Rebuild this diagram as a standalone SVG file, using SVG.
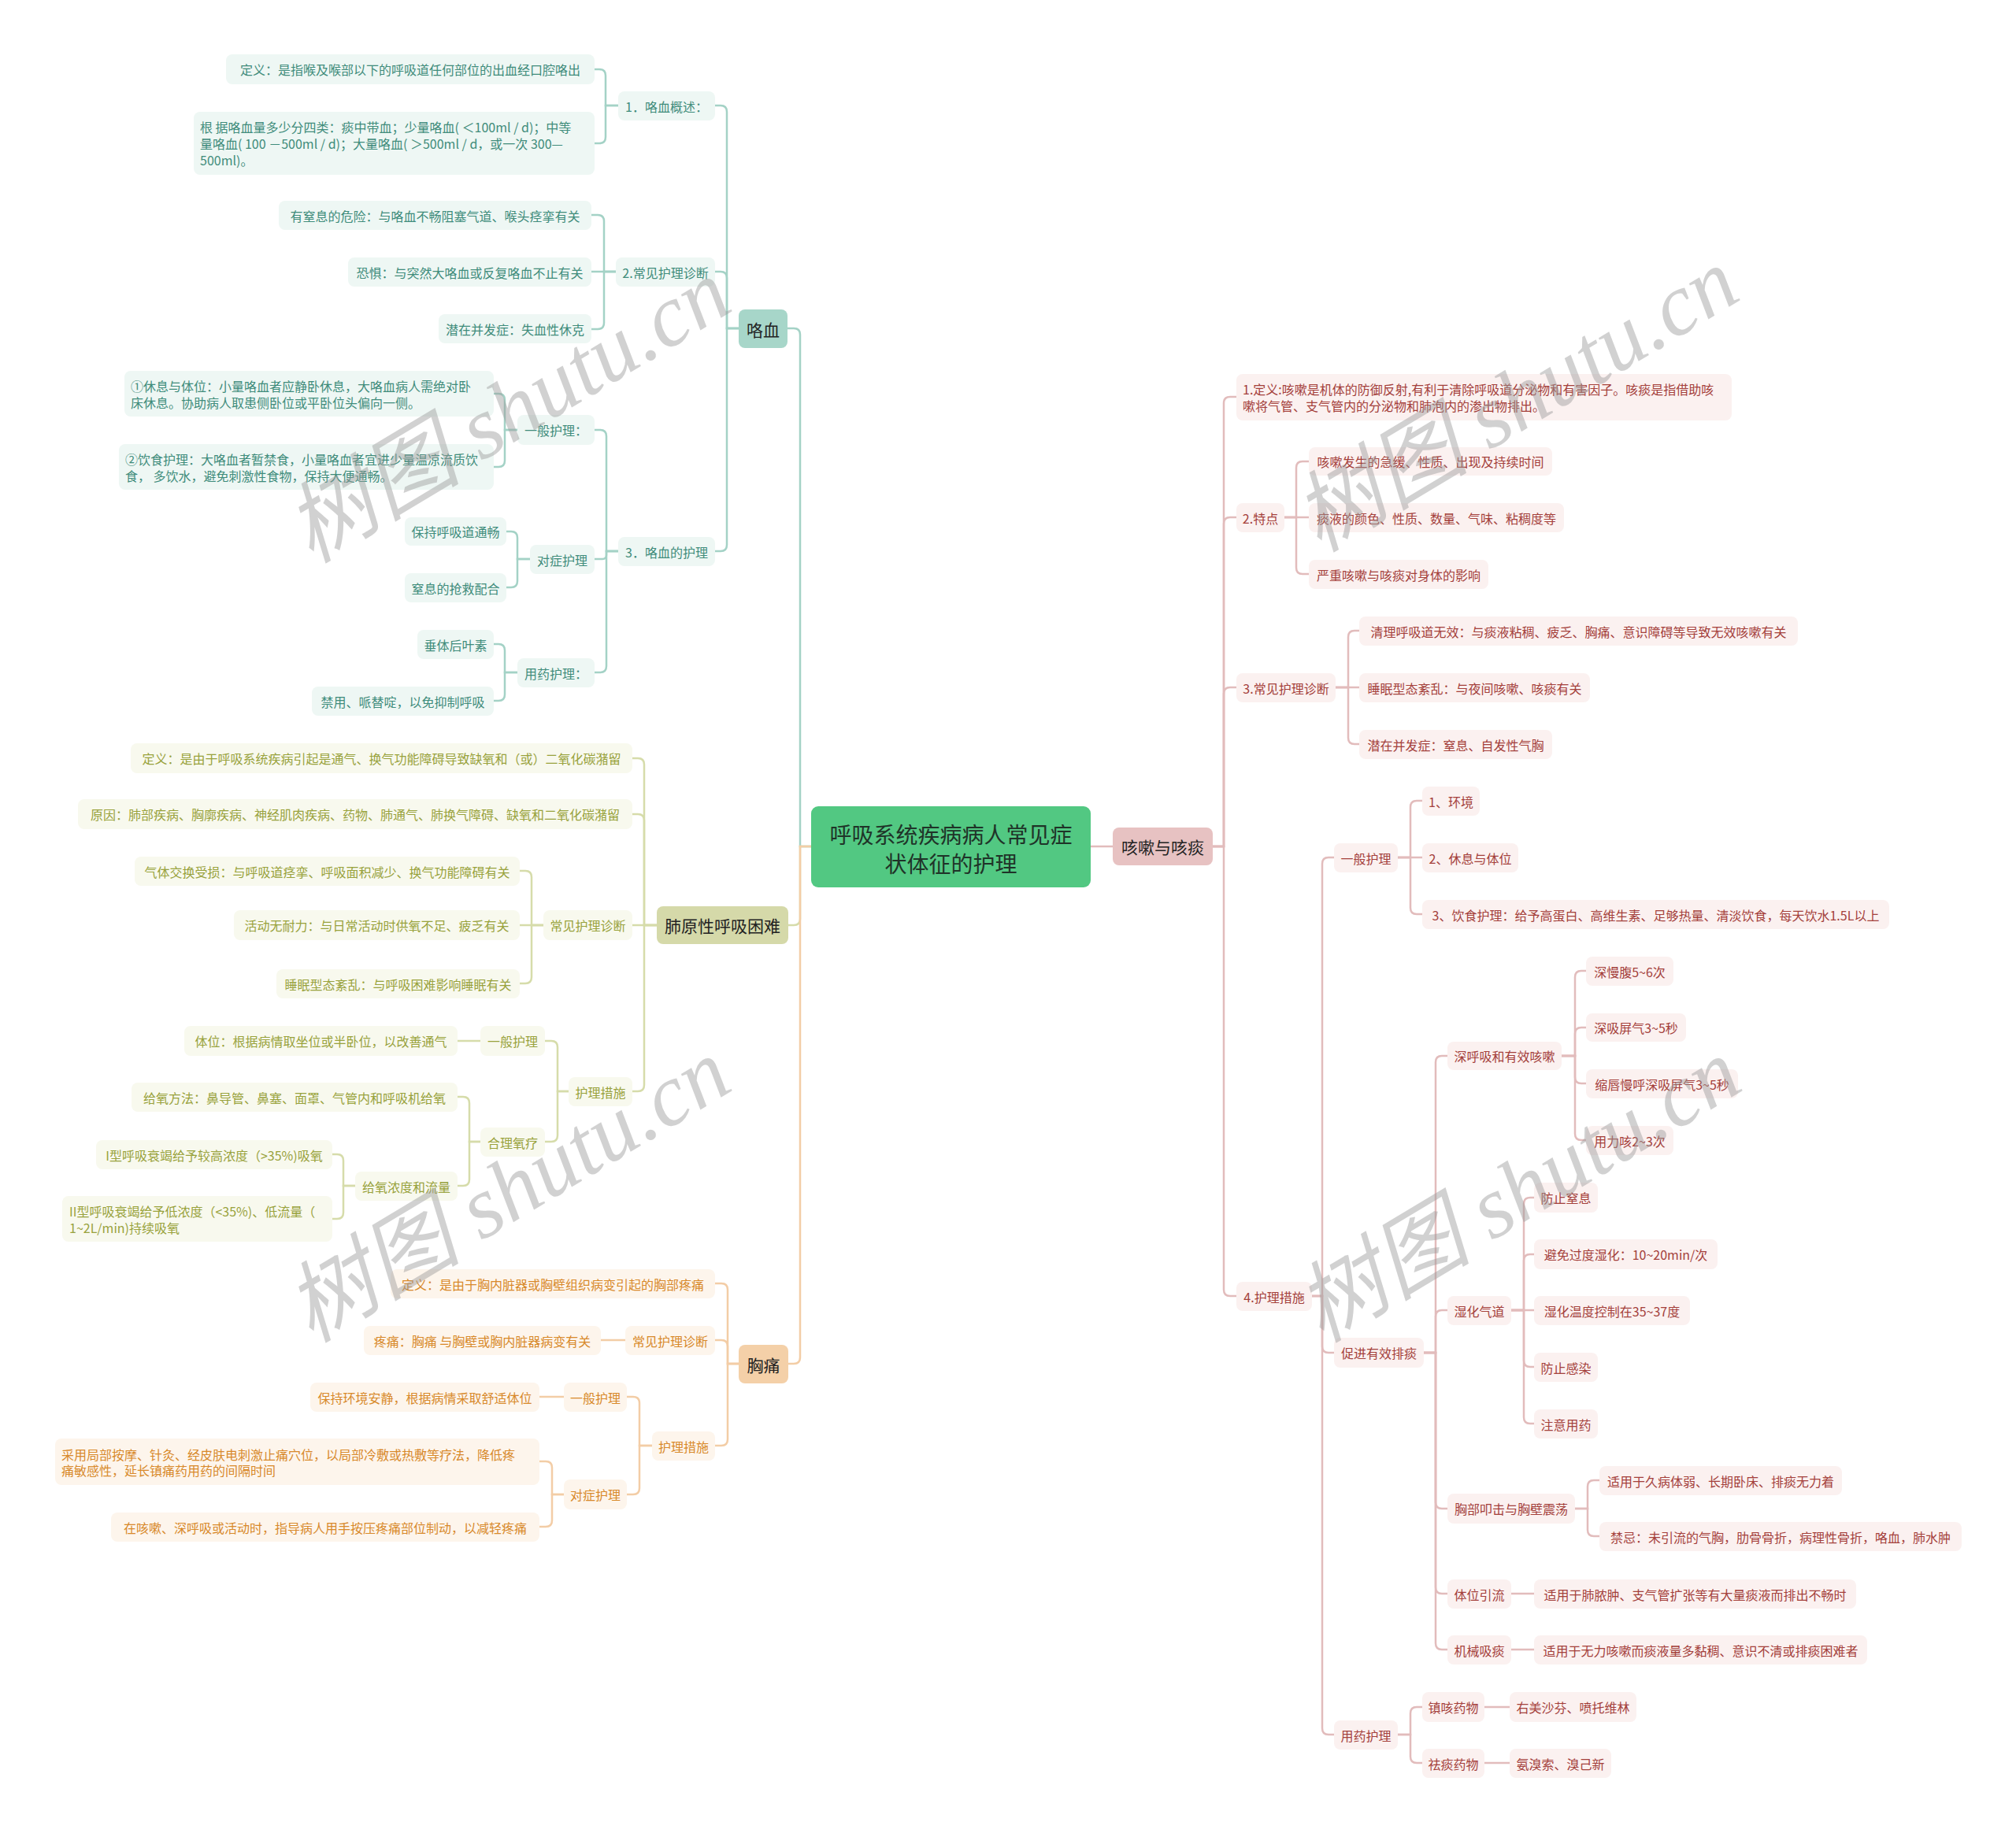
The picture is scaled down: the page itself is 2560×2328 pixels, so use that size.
<svg xmlns="http://www.w3.org/2000/svg" width="2560" height="2328" viewBox="0 0 2560 2328">
<style>
text{font-family:"Noto Sans CJK SC","Microsoft YaHei",sans-serif;font-size:16px;dominant-baseline:central;text-anchor:middle}
text.l{text-anchor:start}
.c path{fill:none;stroke-width:2.5;stroke-linecap:round}
.ct path{stroke:#a4d2c6}
.co path{stroke:#d6dcaa}
.cr path{stroke:#f3cda6}
.cp path{stroke:#e2bcbc}
.t rect{fill:#eef7f4;rx:8px}
.t text{fill:#3f8c7b}
.o rect{fill:#f8f9ee;rx:8px}
.o text{fill:#98a23c}
.r rect{fill:#fdf5ec;rx:8px}
.r text{fill:#d8892a}
.p rect{fill:#fbf1f0;rx:8px}
.p text{fill:#a4403b}
.m text{font-size:21px;fill:#222}
.mt rect{fill:#a7d6c9}
.mo rect{fill:#d5d9a9}
.mr rect{fill:#f4d0a8}
.mp rect{fill:#e7c2c2}
.root rect{fill:#52c882;rx:9px}
.root text{font-size:28px;fill:#1f3328}
.wm{font-family:"Liberation Serif","Noto Sans CJK SC",serif;font-style:italic;font-size:112px;fill:#9a9a9a;fill-opacity:0.45;dominant-baseline:central;text-anchor:middle}
</style>
<rect width="2560" height="2328" fill="#ffffff"/>
<g id="connectors" class="c">
<g class="ct">
<path d="M1030,1075 H1016 V425 Q1016,417 1008,417 H1000"/>
<path d="M938,417 H923 V142 Q923,134 915,134 H908"/>
<path d="M938,417 H923 V353 Q923,345 915,345 H908"/>
<path d="M938,417 H923 V692 Q923,700 915,700 H908"/>
<path d="M785,134 H769 V96 Q769,88 761,88 H755"/>
<path d="M785,134 H769 V174 Q769,182 761,182 H755"/>
<path d="M782,345 H767 V281 Q767,273 759,273 H751"/>
<path d="M782,345 H751"/>
<path d="M782,345 H767 V410 Q767,418 759,418 H751"/>
<path d="M785,700 H770 V554 Q770,546 762,546 H755"/>
<path d="M785,700 H770 V705 Q770,710 765,710 H755"/>
<path d="M785,700 H770 V846 Q770,854 762,854 H755"/>
<path d="M657,546 H641 V508 Q641,500 633,500 H627"/>
<path d="M657,546 H641 V585 Q641,593 633,593 H627"/>
<path d="M673,710 H657 V683 Q657,675 649,675 H643"/>
<path d="M673,710 H657 V738 Q657,746 649,746 H643"/>
<path d="M657,854 H641 V826 Q641,818 633,818 H627"/>
<path d="M657,854 H641 V882 Q641,890 633,890 H627"/>
</g>
<g class="co">
<path d="M1030,1075 H1016 V1167 Q1016,1175 1008,1175 H1001"/>
<path d="M834,1175 H818 V971 Q818,963 810,963 H803"/>
<path d="M834,1175 H818 V1042 Q818,1034 810,1034 H803"/>
<path d="M834,1175 H803"/>
<path d="M834,1175 H818 V1378 Q818,1386 810,1386 H803"/>
<path d="M690,1175 H675 V1114 Q675,1106 667,1106 H660"/>
<path d="M690,1175 H660"/>
<path d="M690,1175 H675 V1241 Q675,1249 667,1249 H660"/>
<path d="M722,1386 H708 V1330 Q708,1322 700,1322 H692"/>
<path d="M722,1386 H708 V1442 Q708,1450 700,1450 H692"/>
<path d="M610,1322 H581"/>
<path d="M610,1450 H596 V1401 Q596,1393 588,1393 H581"/>
<path d="M610,1450 H596 V1498 Q596,1506 588,1506 H581"/>
<path d="M451,1506 H436 V1474 Q436,1466 428,1466 H422"/>
<path d="M451,1506 H436 V1540 Q436,1548 428,1548 H422"/>
</g>
<g class="cr">
<path d="M1030,1075 H1016 V1724 Q1016,1732 1008,1732 H1001"/>
<path d="M938,1732 H924 V1638 Q924,1630 916,1630 H908"/>
<path d="M938,1732 H924 V1710 Q924,1702 916,1702 H908"/>
<path d="M938,1732 H924 V1828 Q924,1836 916,1836 H908"/>
<path d="M794,1702 H763"/>
<path d="M828,1836 H812 V1782 Q812,1774 804,1774 H796"/>
<path d="M828,1836 H812 V1890 Q812,1898 804,1898 H796"/>
<path d="M716,1774 H685"/>
<path d="M716,1898 H701 V1864 Q701,1856 693,1856 H685"/>
<path d="M716,1898 H701 V1931 Q701,1939 693,1939 H685"/>
</g>
<g class="cp">
<path d="M1385,1075 H1413"/>
<path d="M1540,1075 H1554 V512 Q1554,504 1562,504 H1570"/>
<path d="M1540,1075 H1554 V665 Q1554,657 1562,657 H1570"/>
<path d="M1540,1075 H1554 V881 Q1554,873 1562,873 H1570"/>
<path d="M1540,1075 H1554 V1638 Q1554,1646 1562,1646 H1570"/>
<path d="M1631,657 H1646 V594 Q1646,586 1654,586 H1662"/>
<path d="M1631,657 H1662"/>
<path d="M1631,657 H1646 V721 Q1646,729 1654,729 H1662"/>
<path d="M1696,873 H1712 V809 Q1712,801 1720,801 H1726"/>
<path d="M1696,873 H1726"/>
<path d="M1696,873 H1712 V937 Q1712,945 1720,945 H1726"/>
<path d="M1666,1646 H1679 V1097 Q1679,1089 1687,1089 H1694"/>
<path d="M1666,1646 H1679 V1710 Q1679,1718 1687,1718 H1694"/>
<path d="M1666,1646 H1679 V2195 Q1679,2203 1687,2203 H1694"/>
<path d="M1775,1089 H1791 V1025 Q1791,1017 1799,1017 H1806"/>
<path d="M1775,1089 H1806"/>
<path d="M1775,1089 H1791 V1153 Q1791,1161 1799,1161 H1806"/>
<path d="M1808,1718 H1823 V1349 Q1823,1341 1831,1341 H1838"/>
<path d="M1808,1718 H1823 V1672 Q1823,1664 1831,1664 H1838"/>
<path d="M1808,1718 H1823 V1908 Q1823,1916 1831,1916 H1838"/>
<path d="M1808,1718 H1823 V2016 Q1823,2024 1831,2024 H1838"/>
<path d="M1808,1718 H1823 V2087 Q1823,2095 1831,2095 H1838"/>
<path d="M1983,1341 H2000 V1241 Q2000,1233 2008,1233 H2014"/>
<path d="M1983,1341 H2000 V1313 Q2000,1305 2008,1305 H2014"/>
<path d="M1983,1341 H2000 V1368 Q2000,1376 2008,1376 H2014"/>
<path d="M1983,1341 H2000 V1440 Q2000,1448 2008,1448 H2014"/>
<path d="M1919,1664 H1935 V1529 Q1935,1521 1943,1521 H1948"/>
<path d="M1919,1664 H1935 V1601 Q1935,1593 1943,1593 H1948"/>
<path d="M1919,1664 H1948"/>
<path d="M1919,1664 H1935 V1728 Q1935,1736 1943,1736 H1948"/>
<path d="M1919,1664 H1935 V1800 Q1935,1808 1943,1808 H1948"/>
<path d="M2000,1916 H2016 V1888 Q2016,1880 2024,1880 H2031"/>
<path d="M2000,1916 H2016 V1943 Q2016,1951 2024,1951 H2031"/>
<path d="M1919,2024 H1948"/>
<path d="M1919,2095 H1948"/>
<path d="M1775,2203 H1791 V2176 Q1791,2168 1799,2168 H1806"/>
<path d="M1775,2203 H1791 V2231 Q1791,2239 1799,2239 H1806"/>
<path d="M1885,2168 H1917"/>
<path d="M1885,2239 H1917"/>
</g>
</g>

<g id="root" class="root"><rect x="1030" y="1024" width="355" height="103"/><text x="1207.5" y="1059">呼吸系统疾病病人常见症</text><text x="1207.5" y="1096">状体征的护理</text></g>

<g id="b-kx" class="m mt"><rect x="938" y="393" width="62" height="49" rx="8"/><text x="969" y="417.5">咯血</text></g>
<g id="t1" class="t"><rect x="287" y="69" width="468" height="38"/><text x="521" y="88">定义：是指喉及喉部以下的呼吸道任何部位的出血经口腔咯出</text></g>
<g id="t2" class="t"><rect x="246" y="142" width="509" height="80"/><text class="l" x="254" y="161">根 据咯血量多少分四类：痰中带血；少量咯血( ＜100ml / d)；中等</text><text class="l" x="254" y="182">量咯血( 100 －500ml / d)；大量咯血( ＞500ml / d，或一次 300—</text><text class="l" x="254" y="203">500ml)。</text></g>
<g id="t3" class="t"><rect x="785" y="116" width="123" height="37"/><text x="846.5" y="134.5">1．咯血概述：</text></g>
<g id="t4" class="t"><rect x="354" y="255" width="397" height="37"/><text x="552.5" y="273.5">有窒息的危险：与咯血不畅阻塞气道、喉头痉挛有关</text></g>
<g id="t5" class="t"><rect x="442" y="327" width="309" height="37"/><text x="596.5" y="345.5">恐惧：与突然大咯血或反复咯血不止有关</text></g>
<g id="t6" class="t"><rect x="782" y="327" width="126" height="37"/><text x="845" y="345.5">2.常见护理诊断</text></g>
<g id="t7" class="t"><rect x="557" y="399" width="194" height="37"/><text x="654" y="417.5">潜在并发症：失血性休克</text></g>
<g id="t8" class="t"><rect x="158" y="471" width="469" height="58"/><text class="l" x="166" y="490">①休息与体位：小量咯血者应静卧休息，大咯血病人需绝对卧</text><text class="l" x="166" y="511">床休息。协助病人取患侧卧位或平卧位头偏向一侧。</text></g>
<g id="t9" class="t"><rect x="151" y="564" width="476" height="58"/><text class="l" x="159" y="583">②饮食护理：大咯血者暂禁食，小量咯血者宜进少量温凉流质饮</text><text class="l" x="159" y="604">食， 多饮水，避免刺激性食物，保持大便通畅。</text></g>
<g id="t10" class="t"><rect x="657" y="527" width="98" height="38"/><text x="706" y="546">一般护理：</text></g>
<g id="t11" class="t"><rect x="514" y="657" width="129" height="36"/><text x="578.5" y="675">保持呼吸道通畅</text></g>
<g id="t12" class="t"><rect x="673" y="692" width="82" height="37"/><text x="714" y="710.5">对症护理</text></g>
<g id="t13" class="t"><rect x="514" y="728" width="129" height="37"/><text x="578.5" y="746.5">窒息的抢救配合</text></g>
<g id="t14" class="t"><rect x="785" y="682" width="123" height="37"/><text x="846.5" y="700.5">3．咯血的护理</text></g>
<g id="t15" class="t"><rect x="530" y="800" width="97" height="37"/><text x="578.5" y="818.5">垂体后叶素</text></g>
<g id="t16" class="t"><rect x="657" y="836" width="98" height="37"/><text x="706" y="854.5">用药护理：</text></g>
<g id="t17" class="t"><rect x="396" y="872" width="231" height="37"/><text x="511.5" y="890.5">禁用、哌替啶，以免抑制呼吸</text></g>

<g id="b-hx" class="m mo"><rect x="834" y="1151" width="167" height="48" rx="8"/><text x="917.5" y="1175">肺原性呼吸困难</text></g>
<g id="o1" class="o"><rect x="166" y="944" width="637" height="38"/><text x="484.5" y="963">定义：是由于呼吸系统疾病引起是通气、换气功能障碍导致缺氧和（或）二氧化碳潴留</text></g>
<g id="o2" class="o"><rect x="99" y="1015" width="704" height="38"/><text x="451" y="1034">原因：肺部疾病、胸廓疾病、神经肌肉疾病、药物、肺通气、肺换气障碍、缺氧和二氧化碳潴留</text></g>
<g id="o3" class="o"><rect x="171" y="1088" width="489" height="37"/><text x="415.5" y="1106.5">气体交换受损：与呼吸道痉挛、呼吸面积减少、换气功能障碍有关</text></g>
<g id="o4" class="o"><rect x="297" y="1156" width="363" height="38"/><text x="478.5" y="1175">活动无耐力：与日常活动时供氧不足、疲乏有关</text></g>
<g id="o5" class="o"><rect x="690" y="1156" width="113" height="38"/><text x="746.5" y="1175">常见护理诊断</text></g>
<g id="o7" class="o"><rect x="351" y="1231" width="309" height="37"/><text x="505.5" y="1249.5">睡眠型态紊乱：与呼吸困难影响睡眠有关</text></g>
<g id="o8" class="o"><rect x="234" y="1303" width="347" height="38"/><text x="407.5" y="1322">体位：根据病情取坐位或半卧位，以改善通气</text></g>
<g id="o9" class="o"><rect x="610" y="1303" width="82" height="38"/><text x="651" y="1322">一般护理</text></g>
<g id="o10" class="o"><rect x="722" y="1368" width="81" height="37"/><text x="762.5" y="1386.5">护理措施</text></g>
<g id="o11" class="o"><rect x="167" y="1375" width="414" height="37"/><text x="374" y="1393.5">给氧方法：鼻导管、鼻塞、面罩、气管内和呼吸机给氧</text></g>
<g id="o12" class="o"><rect x="610" y="1432" width="82" height="37"/><text x="651" y="1450.5">合理氧疗</text></g>
<g id="o13" class="o"><rect x="122" y="1448" width="300" height="37"/><text x="272" y="1466.5">I型呼吸衰竭给予较高浓度（&gt;35%)吸氧</text></g>
<g id="o14" class="o"><rect x="451" y="1488" width="130" height="37"/><text x="516" y="1506.5">给氧浓度和流量</text></g>
<g id="o15" class="o"><rect x="79" y="1519" width="343" height="58"/><text class="l" x="88" y="1538">II型呼吸衰竭给予低浓度（&lt;35%)、低流量（</text><text class="l" x="88" y="1559">1~2L/min)持续吸氧</text></g>

<g id="b-xt" class="m mr"><rect x="938" y="1708" width="63" height="49" rx="8"/><text x="969.5" y="1732.5">胸痛</text></g>
<g id="r1" class="r"><rect x="496" y="1612" width="412" height="37"/><text x="702" y="1630.5">定义：是由于胸内脏器或胸壁组织病变引起的胸部疼痛</text></g>
<g id="r2" class="r"><rect x="462" y="1684" width="301" height="37"/><text x="612.5" y="1702.5">疼痛：胸痛 与胸壁或胸内脏器病变有关</text></g>
<g id="r3" class="r"><rect x="794" y="1684" width="114" height="37"/><text x="851" y="1702.5">常见护理诊断</text></g>
<g id="r5" class="r"><rect x="394" y="1756" width="291" height="37"/><text x="539.5" y="1774.5">保持环境安静，根据病情采取舒适体位</text></g>
<g id="r6" class="r"><rect x="716" y="1756" width="80" height="37"/><text x="756" y="1774.5">一般护理</text></g>
<g id="r7" class="r"><rect x="828" y="1818" width="80" height="37"/><text x="868" y="1836.5">护理措施</text></g>
<g id="r8" class="r"><rect x="70" y="1827" width="615" height="59"/><text class="l" x="78" y="1847">采用局部按摩、针灸、经皮肤电刺激止痛穴位，以局部冷敷或热敷等疗法，降低疼</text><text class="l" x="78" y="1867">痛敏感性，延长镇痛药用药的间隔时间</text></g>
<g id="r9" class="r"><rect x="716" y="1879" width="80" height="38"/><text x="756" y="1898">对症护理</text></g>
<g id="r10" class="r"><rect x="141" y="1921" width="544" height="37"/><text x="413" y="1939.5">在咳嗽、深呼吸或活动时，指导病人用手按压疼痛部位制动，以减轻疼痛</text></g>

<g id="b-ks" class="m mp"><rect x="1413" y="1051" width="127" height="48" rx="8"/><text x="1476.5" y="1075">咳嗽与咳痰</text></g>
<g id="p1" class="p"><rect x="1570" y="475" width="629" height="59"/><text class="l" x="1578" y="494">1.定义:咳嗽是机体的防御反射,有利于清除呼吸道分泌物和有害因子。咳痰是指借助咳</text><text class="l" x="1578" y="515">嗽将气管、支气管内的分泌物和肺泡内的渗出物排出。</text></g>
<g id="p2" class="p"><rect x="1570" y="639" width="61" height="37"/><text x="1600.5" y="657.5">2.特点</text></g>
<g id="p3" class="p"><rect x="1662" y="568" width="309" height="36"/><text x="1816.5" y="586">咳嗽发生的急缓、性质、出现及持续时间</text></g>
<g id="p4" class="p"><rect x="1662" y="639" width="324" height="37"/><text x="1824" y="657.5">痰液的颜色、性质、数量、气味、粘稠度等</text></g>
<g id="p5" class="p"><rect x="1662" y="711" width="228" height="37"/><text x="1776" y="729.5">严重咳嗽与咳痰对身体的影响</text></g>
<g id="p6" class="p"><rect x="1570" y="855" width="126" height="37"/><text x="1633" y="873.5">3.常见护理诊断</text></g>
<g id="p7" class="p"><rect x="1726" y="783" width="557" height="37"/><text x="2004.5" y="801.5">清理呼吸道无效：与痰液粘稠、疲乏、胸痛、意识障碍等导致无效咳嗽有关</text></g>
<g id="p8" class="p"><rect x="1726" y="855" width="293" height="37"/><text x="1872.5" y="873.5">睡眠型态紊乱：与夜间咳嗽、咳痰有关</text></g>
<g id="p9" class="p"><rect x="1726" y="927" width="245" height="37"/><text x="1848.5" y="945.5">潜在并发症：窒息、自发性气胸</text></g>
<g id="p10" class="p"><rect x="1806" y="999" width="73" height="37"/><text x="1842.5" y="1017.5">1、环境</text></g>
<g id="p11" class="p"><rect x="1694" y="1071" width="81" height="37"/><text x="1734.5" y="1089.5">一般护理</text></g>
<g id="p12" class="p"><rect x="1806" y="1071" width="122" height="37"/><text x="1867" y="1089.5">2、休息与体位</text></g>
<g id="p13" class="p"><rect x="1806" y="1143" width="593" height="37"/><text x="2102.5" y="1161.5">3、饮食护理：给予高蛋白、高维生素、足够热量、清淡饮食，每天饮水1.5L以上</text></g>
<g id="p14" class="p"><rect x="2014" y="1215" width="111" height="37"/><text x="2069.5" y="1233.5">深慢腹5~6次</text></g>
<g id="p15" class="p"><rect x="2014" y="1287" width="127" height="36"/><text x="2077.5" y="1305">深吸屏气3~5秒</text></g>
<g id="p16" class="p"><rect x="1838" y="1323" width="145" height="36"/><text x="1910.5" y="1341">深呼吸和有效咳嗽</text></g>
<g id="p17" class="p"><rect x="2014" y="1358" width="193" height="37"/><text x="2110.5" y="1376.5">缩唇慢呼深吸屏气3~5秒</text></g>
<g id="p18" class="p"><rect x="2014" y="1430" width="111" height="37"/><text x="2069.5" y="1448.5">用力咳2~3次</text></g>
<g id="p19" class="p"><rect x="1948" y="1502" width="81" height="38"/><text x="1988.5" y="1521">防止窒息</text></g>
<g id="p20" class="p"><rect x="1948" y="1574" width="233" height="38"/><text x="2064.5" y="1593">避免过度湿化：10~20min/次</text></g>
<g id="p21" class="p"><rect x="1570" y="1628" width="96" height="37"/><text x="1618" y="1646.5">4.护理措施</text></g>
<g id="p22" class="p"><rect x="1838" y="1646" width="81" height="37"/><text x="1878.5" y="1664.5">湿化气道</text></g>
<g id="p23" class="p"><rect x="1948" y="1646" width="198" height="37"/><text x="2047" y="1664.5">湿化温度控制在35~37度</text></g>
<g id="p24" class="p"><rect x="1694" y="1699" width="114" height="38"/><text x="1751" y="1718">促进有效排痰</text></g>
<g id="p25" class="p"><rect x="1948" y="1718" width="81" height="37"/><text x="1988.5" y="1736.5">防止感染</text></g>
<g id="p26" class="p"><rect x="1948" y="1790" width="81" height="37"/><text x="1988.5" y="1808.5">注意用药</text></g>
<g id="p27" class="p"><rect x="2031" y="1862" width="308" height="37"/><text x="2185" y="1880.5">适用于久病体弱、长期卧床、排痰无力着</text></g>
<g id="p28" class="p"><rect x="1838" y="1897" width="162" height="38"/><text x="1919" y="1916">胸部叩击与胸壁震荡</text></g>
<g id="p29" class="p"><rect x="2031" y="1933" width="460" height="37"/><text x="2261" y="1951.5">禁忌：未引流的气胸，肋骨骨折，病理性骨折，咯血，肺水肿</text></g>
<g id="p30" class="p"><rect x="1838" y="2006" width="81" height="37"/><text x="1878.5" y="2024.5">体位引流</text></g>
<g id="p31" class="p"><rect x="1948" y="2006" width="409" height="37"/><text x="2152.5" y="2024.5">适用于肺脓肿、支气管扩张等有大量痰液而排出不畅时</text></g>
<g id="p32" class="p"><rect x="1838" y="2077" width="81" height="37"/><text x="1878.5" y="2095.5">机械吸痰</text></g>
<g id="p33" class="p"><rect x="1948" y="2077" width="423" height="37"/><text x="2159.5" y="2095.5">适用于无力咳嗽而痰液量多黏稠、意识不清或排痰困难者</text></g>
<g id="p34" class="p"><rect x="1806" y="2149" width="79" height="38"/><text x="1845.5" y="2168">镇咳药物</text></g>
<g id="p35" class="p"><rect x="1917" y="2149" width="161" height="38"/><text x="1997.5" y="2168">右美沙芬、喷托维林</text></g>
<g id="p36" class="p"><rect x="1694" y="2185" width="81" height="37"/><text x="1734.5" y="2203.5">用药护理</text></g>
<g id="p37" class="p"><rect x="1806" y="2221" width="79" height="37"/><text x="1845.5" y="2239.5">祛痰药物</text></g>
<g id="p38" class="p"><rect x="1917" y="2221" width="129" height="37"/><text x="1981.5" y="2239.5">氨溴索、溴己新</text></g>

<g id="watermarks">
<text class="wm" transform="translate(645,522) rotate(-31)">树图 shutu.cn</text>
<text class="wm" transform="translate(1925,508) rotate(-31)">树图 shutu.cn</text>
<text class="wm" transform="translate(645,1512) rotate(-31)">树图 shutu.cn</text>
<text class="wm" transform="translate(1928,1512) rotate(-31)">树图 shutu.cn</text>
</g>
</svg>
